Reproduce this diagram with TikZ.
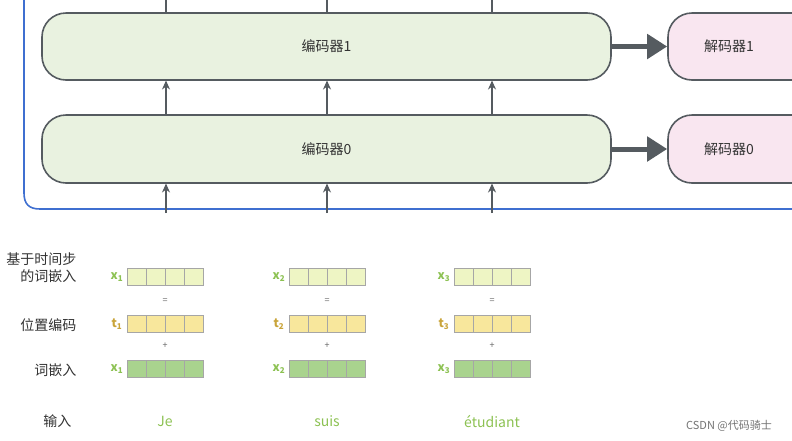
\documentclass[tikz,border=0pt]{standalone}
\usepackage{fontspec}
\setmainfont{Noto Sans CJK SC}
\usetikzlibrary{arrows.meta}
\definecolor{encf}{HTML}{E9F2E0}
\definecolor{decf}{HTML}{F9E6F0}
\definecolor{bord}{HTML}{555B60}
\definecolor{frameb}{HTML}{3F6FD0}
\definecolor{rowa}{HTML}{EEF5C4}
\definecolor{rowb}{HTML}{F8E79C}
\definecolor{rowc}{HTML}{A9D38E}
\definecolor{lg}{HTML}{8CC152}
\definecolor{lt}{HTML}{C9A43A}
\begin{document}
\begin{tikzpicture}[x=1pt,y=-1pt,
 box/.style={draw=bord,line width=1.6pt,rounded corners=24pt,inner sep=0pt},
 enc/.style={box,fill=encf},
 dec/.style={box,fill=decf},
 up/.style={-{Stealth[length=9pt,width=8pt]},line width=1.3pt,draw=bord},
 big/.style={-{Triangle[length=20pt,width=24pt]},line width=5pt,draw=bord},
 lab/.style={font=\fontsize{14}{17}\selectfont,text=black!80},
 cell/.style={draw=black!35,line width=0.6pt,minimum width=19pt,minimum height=17pt,inner sep=0pt},
 vl/.style={font=\fontsize{12}{12}\selectfont\bfseries}]
\useasboundingbox (0,0) rectangle (792,440);
\begin{scope}
\clip (0,0) rectangle (792,440);
\node[enc,minimum width=569pt,minimum height=67pt] (e1) at (326.5,46.5) {};
\node[lab] at (e1) {编码器1};
\node[enc,minimum width=569pt,minimum height=68pt] (e0) at (326.5,149) {};
\node[lab] at (e0) {编码器0};
\node[dec,minimum width=150pt,minimum height=67pt] (d1) at (743,46.5) {};
\node[lab] at (729,46.5) {解码器1};
\node[dec,minimum width=150pt,minimum height=68pt] (d0) at (743,149) {};
\node[lab] at (729,149) {解码器0};
\draw[frameb,line width=1.6pt] (24,-2) -- (24,193) .. controls (24,204) and (29,209) .. (40,209) -- (800,209);
\end{scope}
\draw[big] (e1.east) -- (d1.west);
\draw[big] (e0.east) -- (d0.west);
\foreach \x/\i in {166/a,327/b,492/c}{
  \coordinate (t\i) at (\x,0);
  \coordinate (s\i) at (\x,213);
  \draw[up] (\x,115) -- (\x,80.5);
  \draw[up] (s\i) -- (\x,183.5);
  \draw[line width=1.3pt,draw=bord] (\x,13) -- (t\i);
}
\node[lab,anchor=east,align=right] (la) at (80,268) {基于时间步\\的词嵌入};
\node[lab,anchor=east] (lb) at (80,325) {位置编码};
\node[lab,anchor=east] (lc) at (80,370) {词嵌入};
\node[lab,anchor=east] (ld) at (75,421) {输入};
\foreach \cx/\n/\w in {165/1/Je,327/2/suis,492/3/étudiant}{
  \foreach \k in {0,1,2,3}{
    \node[cell,fill=rowa] at (\cx-28.5+19*\k,277) {};
    \node[cell,fill=rowb] at (\cx-28.5+19*\k,324) {};
    \node[cell,fill=rowc] at (\cx-28.5+19*\k,369) {};
  }
  \node[vl,text=lg] at (\cx-48,277) {x\textsubscript{\n}};
  \node[vl,text=lt] at (\cx-48,324) {t\textsubscript{\n}};
  \node[vl,text=lg] at (\cx-48,369) {x\textsubscript{\n}};
  \node[font=\fontsize{9}{10}\selectfont,text=black!60] at (\cx,301) {=};
  \node[font=\fontsize{9}{10}\selectfont,text=black!60] at (\cx,346) {+};
  \node[font=\fontsize{14}{15}\selectfont,text=lg] at (\cx,421) {\w};
}
\node[font=\fontsize{11}{12}\selectfont,text=black!55] (wm) at (729,426) {CSDN @代码骑士};
\end{tikzpicture}
\end{document}
